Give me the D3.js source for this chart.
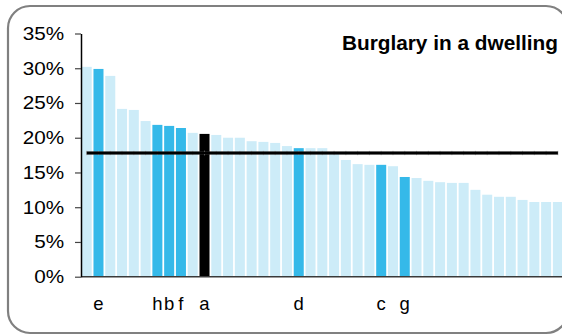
<!DOCTYPE html>
<html>
<head>
<meta charset="utf-8">
<script src="https://cdn.jsdelivr.net/npm/d3@7"></script>
<style>
  html, body { margin: 0; padding: 0; background: #fff; }
  svg { display: block; font-family: "Liberation Sans", Arial, Helvetica, sans-serif; }
</style>
</head>
<body>
<svg id="chart" width="562" height="335"></svg>
<script>
// Burglary in a dwelling: rate per area, sorted descending
const areaIds = d3.range(1, 42).map(i => "area" + i);
const rates = [
  30.2, 29.9, 28.9, 24.15, 24.0, 22.4, 21.85, 21.7, 21.4, 20.7,
  20.55, 20.4, 20.0, 20.0, 19.5, 19.4, 19.25, 18.8, 18.5, 18.5,
  18.5, 17.9, 16.8, 16.2, 16.1, 16.1, 15.9, 14.35, 14.2, 13.8,
  13.6, 13.5, 13.5, 12.5, 11.8, 11.5, 11.5, 11.05, 10.75, 10.75,
  10.75
];
// Letter shown under highlighted areas ("" = unlabelled)
const areaLabels = [
  "", "e", "", "", "", "", "h", "b", "f", "",
  "a", "", "", "", "", "", "", "", "d", "",
  "", "", "", "", "", "c", "", "g", "", "",
  "", "", "", "", "", "", "", "", "", "",
  ""
];
const focusLabel = "a";
const averageRate = 17.8;
const yTicks = [0, 5, 10, 15, 20, 25, 30, 35];
const title = "Burglary in a dwelling";

const colors = { base: "#cdecf8", highlight: "#35b9e9", focus: "#000000" };

const svg = d3.select("#chart");

// Rounded panel frame
svg.append("rect")
  .attr("x", 8).attr("y", 6)
  .attr("width", 560).attr("height", 327)
  .attr("rx", 22).attr("ry", 22)
  .attr("fill", "#fff")
  .attr("stroke", "#808080")
  .attr("stroke-width", 2.2);

const x = d3.scaleBand()
  .domain(areaIds)
  .range([81.7, 562.9])
  .paddingInner(0.15)
  .paddingOuter(0);

const y = d3.scaleLinear()
  .domain([0, 35])
  .range([276.7, 33.5]);

const data = areaIds.map((id, i) => ({ id, rate: rates[i], label: areaLabels[i] }));

// Bars
svg.append("g")
  .selectAll("rect")
  .data(data)
  .join("rect")
  .attr("x", d => x(d.id))
  .attr("y", d => y(d.rate))
  .attr("width", x.bandwidth())
  .attr("height", d => y(0) - y(d.rate))
  .attr("fill", d => d.label === focusLabel ? colors.focus : (d.label ? colors.highlight : colors.base));

// Average line with faint markers at each category
const cx = d => x(d) + x.bandwidth() / 2;
const avgY = y(averageRate);
svg.append("g")
  .selectAll("line")
  .data(areaIds)
  .join("line")
  .attr("x1", cx).attr("x2", cx)
  .attr("y1", avgY - 2.2).attr("y2", avgY + 2.2)
  .attr("stroke", "#bbb")
  .attr("stroke-width", 1);
svg.append("line")
  .attr("x1", cx(areaIds[0])).attr("x2", cx(areaIds[areaIds.length - 1]))
  .attr("y1", avgY).attr("y2", avgY)
  .attr("stroke", "#888")
  .attr("stroke-opacity", 0.3)
  .attr("stroke-width", 4);
svg.append("line")
  .attr("x1", cx(areaIds[0])).attr("x2", cx(areaIds[areaIds.length - 1]))
  .attr("y1", avgY).attr("y2", avgY)
  .attr("stroke", "#000")
  .attr("stroke-width", 2.8);

// X axis baseline
svg.append("line")
  .attr("x1", 81).attr("x2", 570)
  .attr("y1", y(0)).attr("y2", y(0))
  .attr("stroke", "#3a3a3a")
  .attr("stroke-width", 1.5);

// Y axis
const yAxis = svg.append("g")
  .attr("transform", "translate(81,0)")
  .call(d3.axisLeft(y).tickValues(yTicks).tickSize(6).tickSizeOuter(0).tickFormat(d => d + "%"));
yAxis.select(".domain").attr("stroke", "#000").attr("stroke-width", 1.5);
yAxis.selectAll(".tick line").attr("stroke", "#444").attr("stroke-width", 1.2);
yAxis.selectAll(".tick text")
  .attr("x", -15)
  .attr("transform", "scale(1.12,1)")
  .attr("fill", "#000")
  .style("font-size", "18.5px")
  .style("font-family", "'Liberation Sans', Arial, sans-serif");

// Category letters
svg.append("g")
  .selectAll("text")
  .data(data.filter(d => d.label))
  .join("text")
  .attr("x", d => cx(d.id))
  .attr("y", 310)
  .attr("text-anchor", "middle")
  .style("font-size", "18.5px")
  .attr("fill", "#000")
  .text(d => d.label);

// Title
svg.append("text")
  .attr("x", 558)
  .attr("y", 50)
  .attr("text-anchor", "end")
  .style("font-size", "20.8px")
  .style("font-weight", "bold")
  .attr("fill", "#000")
  .text(title);
</script>
</body>
</html>
